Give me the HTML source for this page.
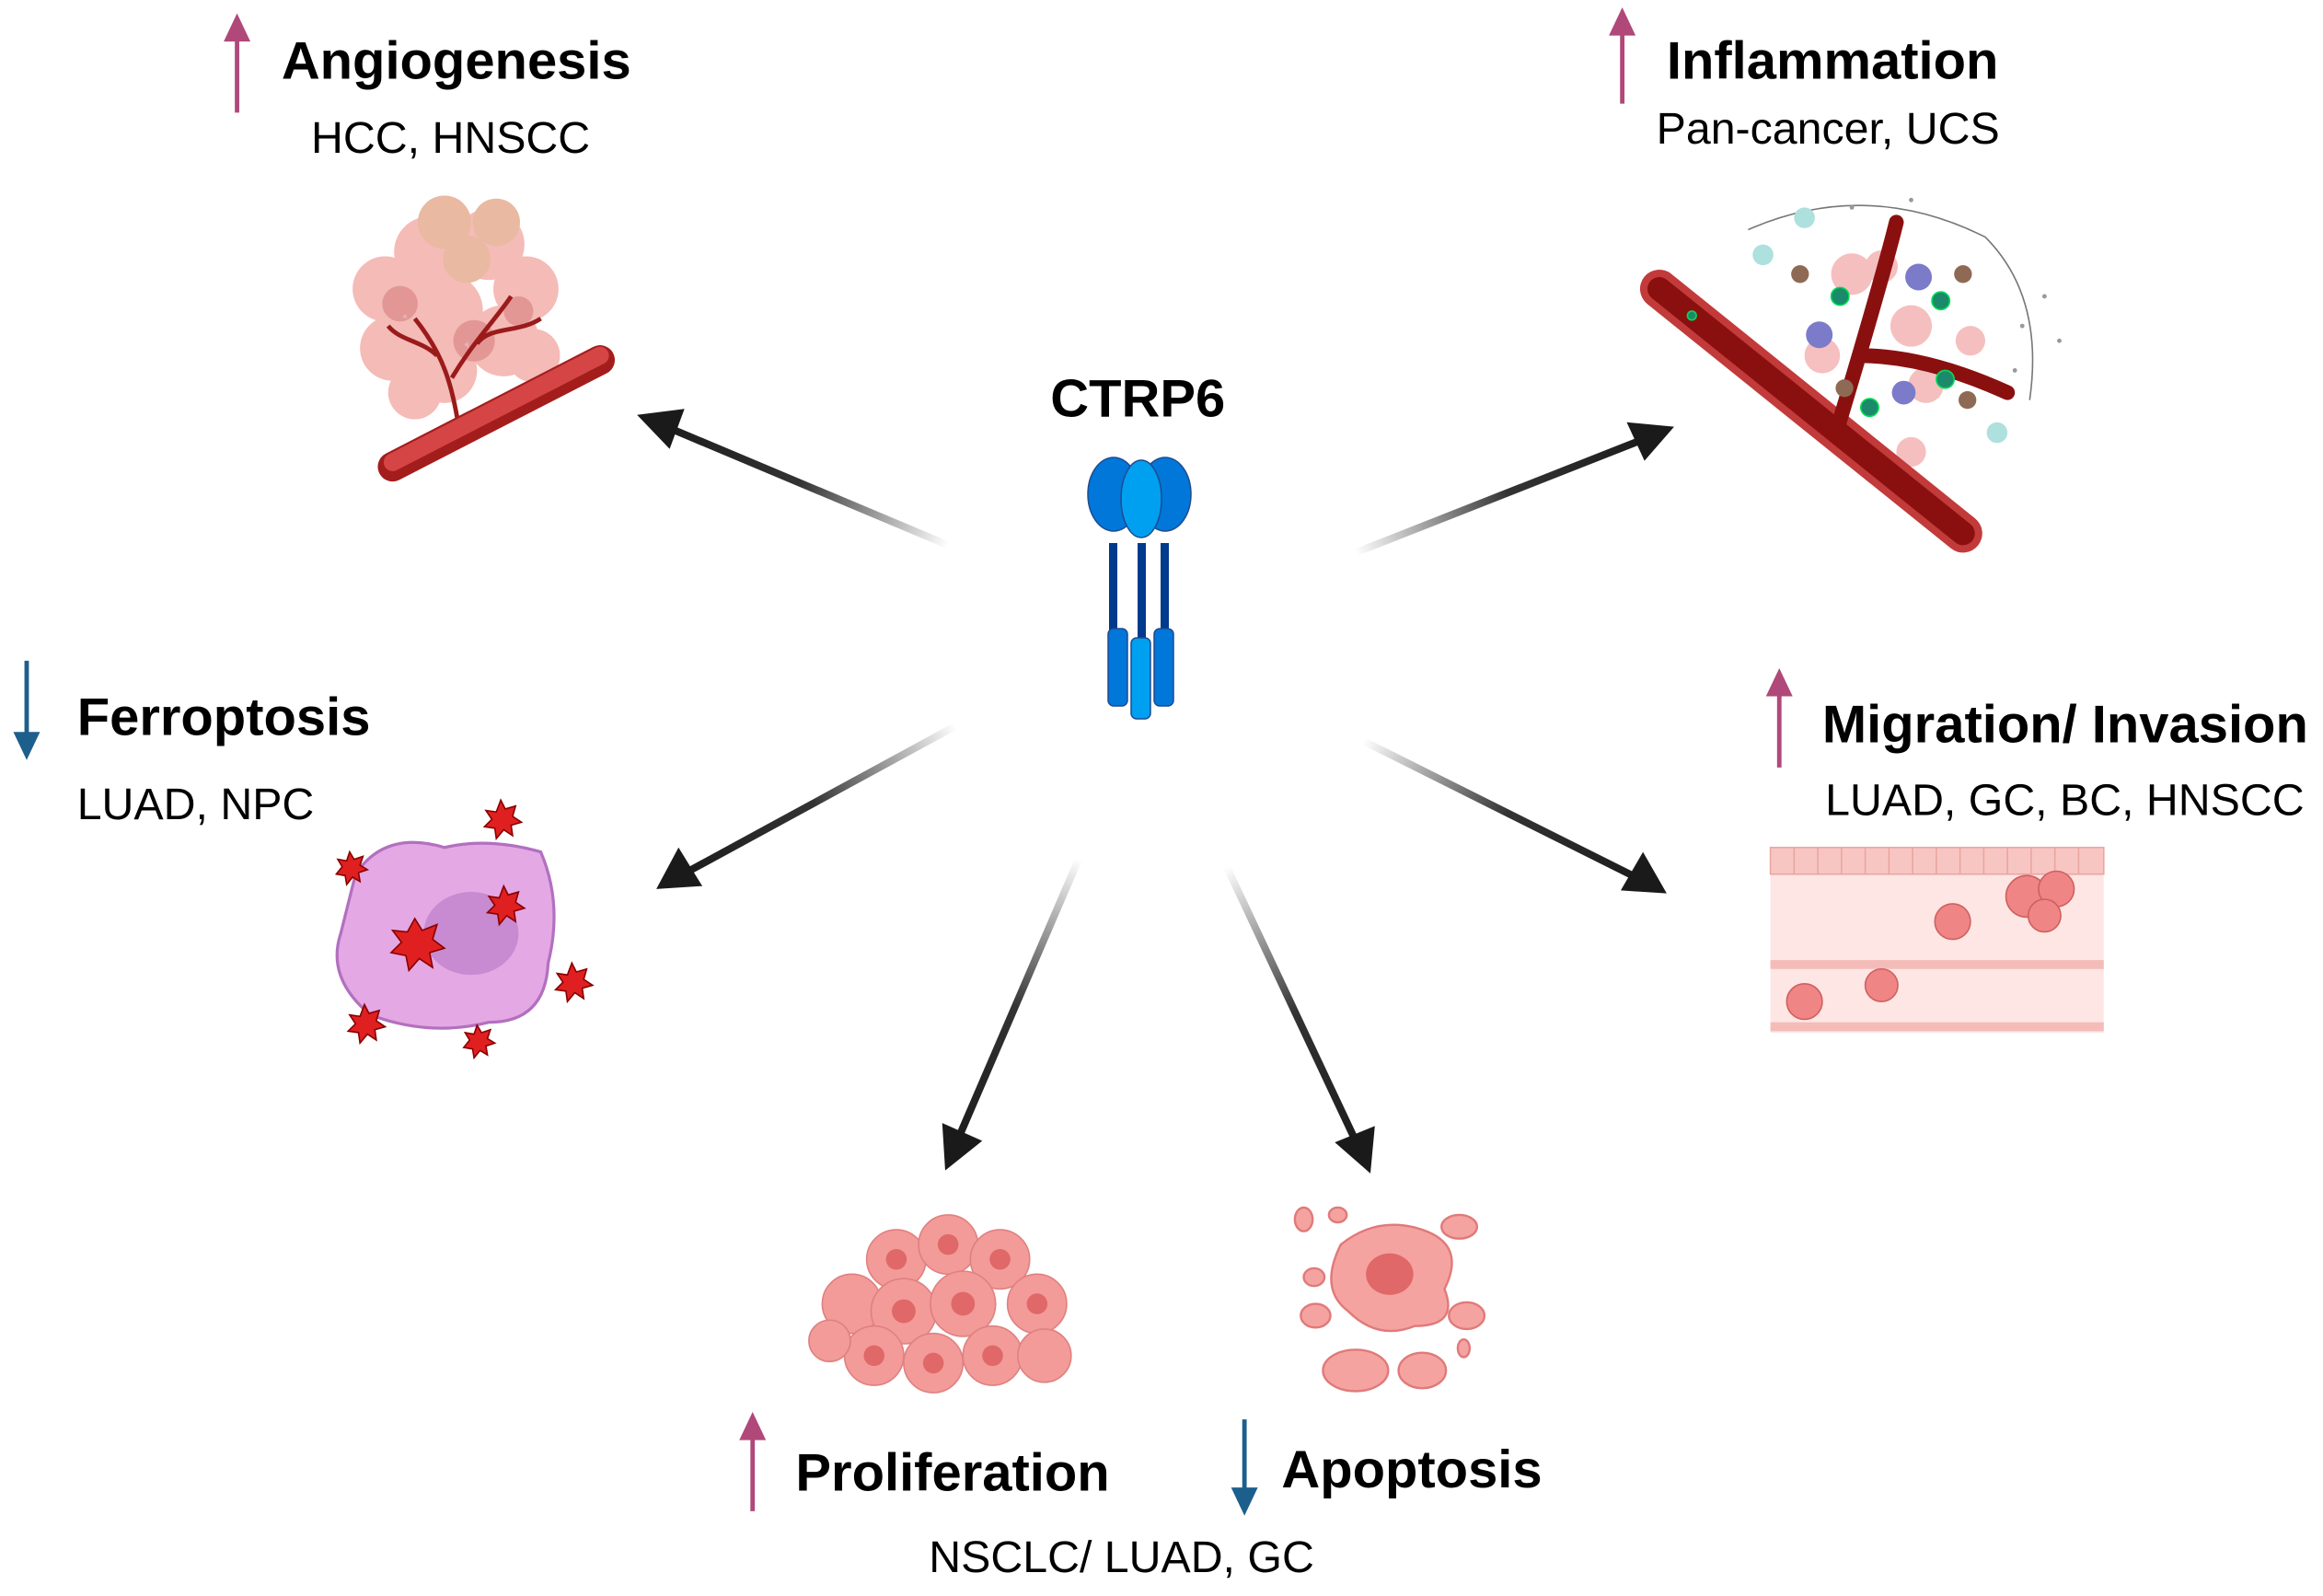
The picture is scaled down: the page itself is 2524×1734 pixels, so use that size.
<!DOCTYPE html>
<html><head><meta charset="utf-8"><style>
html,body{margin:0;padding:0;background:#fff;width:2524px;height:1734px;overflow:hidden}
svg{display:block}
text{font-family:"Liberation Sans",Arial,sans-serif;fill:#000}
.b{font-weight:bold;font-size:36px}
.s{font-size:30px}
</style></head><body>
<svg width="2524" height="1734" viewBox="0 0 2524 1734" xmlns="http://www.w3.org/2000/svg">
<g transform="scale(1.6097)">
<defs>
<linearGradient id="g1" gradientUnits="userSpaceOnUse" x1="640" y1="368" x2="440" y2="284"><stop offset="0" stop-color="#fff"/><stop offset="0.5" stop-color="#333"/><stop offset="1" stop-color="#1a1a1a"/></linearGradient>
<linearGradient id="g2" gradientUnits="userSpaceOnUse" x1="915" y1="373" x2="1120" y2="292"><stop offset="0" stop-color="#fff"/><stop offset="0.5" stop-color="#333"/><stop offset="1" stop-color="#1a1a1a"/></linearGradient>
<linearGradient id="g3" gradientUnits="userSpaceOnUse" x1="645" y1="490" x2="452" y2="595"><stop offset="0" stop-color="#fff"/><stop offset="0.5" stop-color="#333"/><stop offset="1" stop-color="#1a1a1a"/></linearGradient>
<linearGradient id="g4" gradientUnits="userSpaceOnUse" x1="920" y1="500" x2="1115" y2="598"><stop offset="0" stop-color="#fff"/><stop offset="0.5" stop-color="#333"/><stop offset="1" stop-color="#1a1a1a"/></linearGradient>
<linearGradient id="g5" gradientUnits="userSpaceOnUse" x1="728" y1="580" x2="642" y2="780"><stop offset="0" stop-color="#fff"/><stop offset="0.5" stop-color="#333"/><stop offset="1" stop-color="#1a1a1a"/></linearGradient>
<linearGradient id="g6" gradientUnits="userSpaceOnUse" x1="828" y1="585" x2="920" y2="782"><stop offset="0" stop-color="#fff"/><stop offset="0.5" stop-color="#333"/><stop offset="1" stop-color="#1a1a1a"/></linearGradient>
</defs>
<g stroke-width="5" fill="none">
<line x1="640" y1="368" x2="452" y2="289" stroke="url(#g1)"/>
<line x1="915" y1="373" x2="1108" y2="297" stroke="url(#g2)"/>
<line x1="645" y1="490" x2="463" y2="589" stroke="url(#g3)"/>
<line x1="920" y1="500" x2="1104" y2="592" stroke="url(#g4)"/>
<line x1="728" y1="580" x2="647" y2="768" stroke="url(#g5)"/>
<line x1="828" y1="585" x2="915" y2="770" stroke="url(#g6)"/>
</g>
<g fill="#1a1a1a">
<polygon points="430,280 462,276 452,303"/>
<polygon points="1130,288 1098,285 1110,311"/>
<polygon points="443,600 458,572 474,598"/>
<polygon points="1125,603 1094,601 1109,575"/>
<polygon points="638,790 636,758 663,770"/>
<polygon points="925,792 901,771 928,760"/>
</g>

<text x="768" y="281" class="b" text-anchor="middle">CTRP6</text>
<text x="190" y="53" class="b">Angiogenesis</text>
<text x="210" y="103" class="s">HCC, HNSCC</text>
<text x="1125" y="53" class="b">Inflammation</text>
<text x="1118" y="97" class="s">Pan-cancer, UCS</text>
<text x="52" y="496" class="b">Ferroptosis</text>
<text x="52" y="553" class="s">LUAD, NPC</text>
<text x="1230" y="501" class="b">Migration/ Invasion</text>
<text x="1232" y="550" class="s">LUAD, GC, BC, HNSCC</text>
<text x="537" y="1006" class="b">Proliferation</text>
<text x="865" y="1004" class="b">Apoptosis</text>
<text x="627" y="1061" class="s">NSCLC/ LUAD, GC</text>

<g stroke-width="3">
<line x1="160" y1="24" x2="160" y2="76" stroke="#b0487a"/><polygon points="151,28 169,28 160,9" fill="#b0487a"/>
<line x1="1095" y1="20" x2="1095" y2="70" stroke="#b0487a"/><polygon points="1086,24 1104,24 1095,5" fill="#b0487a"/>
<line x1="1201" y1="466" x2="1201" y2="518" stroke="#b0487a"/><polygon points="1192,470 1210,470 1201,451" fill="#b0487a"/>
<line x1="508" y1="968" x2="508" y2="1020" stroke="#b0487a"/><polygon points="499,972 517,972 508,953" fill="#b0487a"/>
<line x1="18" y1="446" x2="18" y2="498" stroke="#1d5f8c"/><polygon points="9,494 27,494 18,513" fill="#1d5f8c"/>
<line x1="840" y1="958" x2="840" y2="1008" stroke="#1d5f8c"/><polygon points="831,1004 849,1004 840,1023" fill="#1d5f8c"/>
</g>
</g>

<g stroke="#1f4a8f" stroke-width="1.5">
<rect x="1205" y="590" width="9" height="100" fill="#003a8c" stroke="none"/>
<rect x="1236" y="590" width="9" height="110" fill="#003a8c" stroke="none"/>
<rect x="1261" y="590" width="9" height="100" fill="#003a8c" stroke="none"/>
<ellipse cx="1210" cy="537" rx="28" ry="40" fill="#0077d9"/>
<ellipse cx="1266" cy="537" rx="28" ry="40" fill="#0077d9"/>
<ellipse cx="1240" cy="542" rx="22" ry="42" fill="#00a0f0"/>
<rect x="1204" y="683" width="21" height="84" rx="6" fill="#0077d9"/>
<rect x="1254" y="683" width="21" height="84" rx="6" fill="#0077d9"/>
<rect x="1229" y="693" width="21" height="88" rx="6" fill="#00a0f0"/>
</g>

<g transform="scale(1.6097)">
<g>
<g fill="#f1a5a0" opacity="0.75">
<circle cx="260" cy="195" r="22"/><circle cx="290" cy="170" r="24"/><circle cx="330" cy="165" r="24"/><circle cx="355" cy="195" r="22"/>
<circle cx="265" cy="235" r="22"/><circle cx="300" cy="210" r="26"/><circle cx="340" cy="230" r="24"/><circle cx="300" cy="250" r="22"/>
<circle cx="360" cy="240" r="18"/><circle cx="280" cy="265" r="18"/>
</g>
<g fill="#e9b9a2"><circle cx="300" cy="150" r="18"/><circle cx="335" cy="150" r="16"/><circle cx="315" cy="175" r="16"/></g>
<g fill="#d88080" opacity="0.6"><circle cx="270" cy="205" r="12"/><circle cx="320" cy="230" r="14"/><circle cx="350" cy="210" r="10"/></g>
<g stroke="#9b1b1b" stroke-width="3" fill="none"><path d="M310,290 C305,260 300,240 280,215 M305,255 C320,230 335,215 345,200 M295,240 C285,230 270,230 262,220 M322,232 C330,220 350,225 365,215"/></g>
<line x1="265" y1="315" x2="405" y2="243" stroke="#a41d1d" stroke-width="20" stroke-linecap="round"/>
<line x1="265" y1="312" x2="405" y2="240" stroke="#d64545" stroke-width="12" stroke-linecap="round"/>
</g>

<g>
<g fill="#f4b0b0" opacity="0.8"><circle cx="1250" cy="185" r="14"/><circle cx="1290" cy="220" r="14"/><circle cx="1230" cy="240" r="12"/><circle cx="1300" cy="260" r="12"/><circle cx="1270" cy="180" r="11"/><circle cx="1330" cy="230" r="10"/><circle cx="1290" cy="305" r="10"/></g>
<path d="M1180,155 Q1260,120 1340,160 Q1380,200 1370,270" stroke="#777" stroke-width="1" fill="none"/>
<line x1="1120" y1="195" x2="1325" y2="360" stroke="#c23a3a" stroke-width="26" stroke-linecap="round"/>
<line x1="1120" y1="195" x2="1325" y2="360" stroke="#8a1010" stroke-width="16" stroke-linecap="round"/>
<path d="M1240,290 Q1270,190 1280,150 M1255,240 Q1300,240 1355,265" stroke="#8a1010" stroke-width="10" fill="none" stroke-linecap="round"/>
<g fill="#1a8a6a" stroke="#0d5"><circle cx="1242" cy="200" r="6"/><circle cx="1310" cy="203" r="6"/><circle cx="1262" cy="275" r="6"/><circle cx="1313" cy="256" r="6"/><circle cx="1142" cy="213" r="3"/></g>
<g fill="#7b7bc9"><circle cx="1295" cy="187" r="9"/><circle cx="1228" cy="226" r="9"/><circle cx="1285" cy="265" r="8"/></g>
<g fill="#8e6a55"><circle cx="1215" cy="185" r="6"/><circle cx="1325" cy="185" r="6"/><circle cx="1245" cy="262" r="6"/><circle cx="1328" cy="270" r="6"/></g>
<g fill="#aee0dd"><circle cx="1218" cy="147" r="7"/><circle cx="1190" cy="172" r="7"/><circle cx="1348" cy="292" r="7"/></g>
<g fill="#999"><circle cx="1365" cy="220" r="1.5"/><circle cx="1380" cy="200" r="1.5"/><circle cx="1390" cy="230" r="1.5"/><circle cx="1360" cy="250" r="1.5"/><circle cx="1250" cy="140" r="1.5"/><circle cx="1290" cy="135" r="1.5"/></g>
</g>

<g>
<path d="M240,590 Q260,560 300,572 Q330,565 365,575 Q380,610 370,650 Q368,690 330,690 Q290,700 250,685 Q220,660 230,630 Z" fill="#e4a8e4" stroke="#b270bf" stroke-width="2"/>
<ellipse cx="318" cy="630" rx="32" ry="28" fill="#c88ad0"/>
<g fill="#e02020" stroke="#800" stroke-width="1">
<polygon points="280,620 285,628 295,624 292,634 300,640 290,643 292,653 283,647 276,655 274,645 264,643 271,636 265,628 275,629"/>
<polygon points="340,598 343,604 350,602 348,609 354,613 347,615 348,622 342,618 337,624 336,617 329,616 334,611 330,605 337,606"/>
<polygon points="338,540 341,546 348,544 346,551 352,555 345,557 346,564 340,560 335,566 334,559 327,558 332,553 328,547 335,548"/>
<polygon points="236,575 239,580 245,578 243,584 248,587 242,589 243,595 238,592 234,597 233,591 227,590 231,585 228,580 234,581"/>
<polygon points="386,650 389,656 396,654 394,661 400,665 393,667 394,674 388,670 383,676 382,669 375,668 380,663 376,657 383,658"/>
<polygon points="246,678 249,684 256,682 254,689 260,693 253,695 254,702 248,698 243,704 242,697 235,696 240,691 236,685 243,686"/>
<polygon points="322,692 325,697 331,695 329,701 334,704 328,706 329,712 324,709 320,714 319,708 313,707 317,702 314,697 320,698"/>
</g>
</g>

<g>
<rect x="1195" y="572" width="225" height="125" fill="#fde6e4"/>
<rect x="1195" y="572" width="225" height="18" fill="#f8c6c2" stroke="#e9a6a0"/>
<g stroke="#e9a6a0" stroke-width="1"><line x1="1211" y1="572" x2="1211" y2="590"/><line x1="1227" y1="572" x2="1227" y2="590"/><line x1="1243" y1="572" x2="1243" y2="590"/><line x1="1259" y1="572" x2="1259" y2="590"/><line x1="1275" y1="572" x2="1275" y2="590"/><line x1="1291" y1="572" x2="1291" y2="590"/><line x1="1307" y1="572" x2="1307" y2="590"/><line x1="1323" y1="572" x2="1323" y2="590"/><line x1="1339" y1="572" x2="1339" y2="590"/><line x1="1355" y1="572" x2="1355" y2="590"/><line x1="1371" y1="572" x2="1371" y2="590"/><line x1="1387" y1="572" x2="1387" y2="590"/><line x1="1403" y1="572" x2="1403" y2="590"/></g>
<rect x="1195" y="648" width="225" height="6" fill="#f4bcb8"/>
<rect x="1195" y="690" width="225" height="6" fill="#f4bcb8"/>
<g fill="#f08585" stroke="#d06060"><circle cx="1218" cy="676" r="12"/><circle cx="1270" cy="665" r="11"/><circle cx="1318" cy="622" r="12"/><circle cx="1368" cy="605" r="14"/><circle cx="1388" cy="600" r="12"/><circle cx="1380" cy="618" r="11"/></g>
</g>

<g fill="#f29b98" stroke="#e08080" stroke-width="1">
<circle cx="575" cy="880" r="20"/><circle cx="605" cy="850" r="20"/><circle cx="640" cy="840" r="20"/><circle cx="675" cy="850" r="20"/><circle cx="700" cy="880" r="20"/>
<circle cx="610" cy="885" r="22"/><circle cx="650" cy="880" r="22"/><circle cx="590" cy="915" r="20"/><circle cx="630" cy="920" r="20"/><circle cx="670" cy="915" r="20"/><circle cx="705" cy="915" r="18"/><circle cx="560" cy="905" r="14"/>
</g>
<g fill="#e06868"><circle cx="605" cy="850" r="7"/><circle cx="640" cy="840" r="7"/><circle cx="675" cy="850" r="7"/><circle cx="610" cy="885" r="8"/><circle cx="650" cy="880" r="8"/><circle cx="590" cy="915" r="7"/><circle cx="630" cy="920" r="7"/><circle cx="670" cy="915" r="7"/><circle cx="700" cy="880" r="7"/></g>

<g fill="#f5a3a0" stroke="#e07a7a" stroke-width="1.5">
<path d="M905,840 Q930,820 960,830 Q990,840 975,870 Q985,895 955,895 Q930,905 910,885 Q890,870 905,840 Z"/>
<ellipse cx="985" cy="828" rx="12" ry="8"/><ellipse cx="880" cy="823" rx="6" ry="8"/><ellipse cx="887" cy="862" rx="7" ry="6"/>
<ellipse cx="990" cy="888" rx="12" ry="9"/><ellipse cx="915" cy="925" rx="22" ry="14"/><ellipse cx="960" cy="925" rx="16" ry="12"/>
<ellipse cx="888" cy="888" rx="10" ry="8"/><ellipse cx="903" cy="820" rx="6" ry="5"/><ellipse cx="988" cy="910" rx="4" ry="6"/>
</g>
<ellipse cx="938" cy="860" rx="16" ry="14" fill="#e06868"/>
</g>
</svg>
</body></html>
